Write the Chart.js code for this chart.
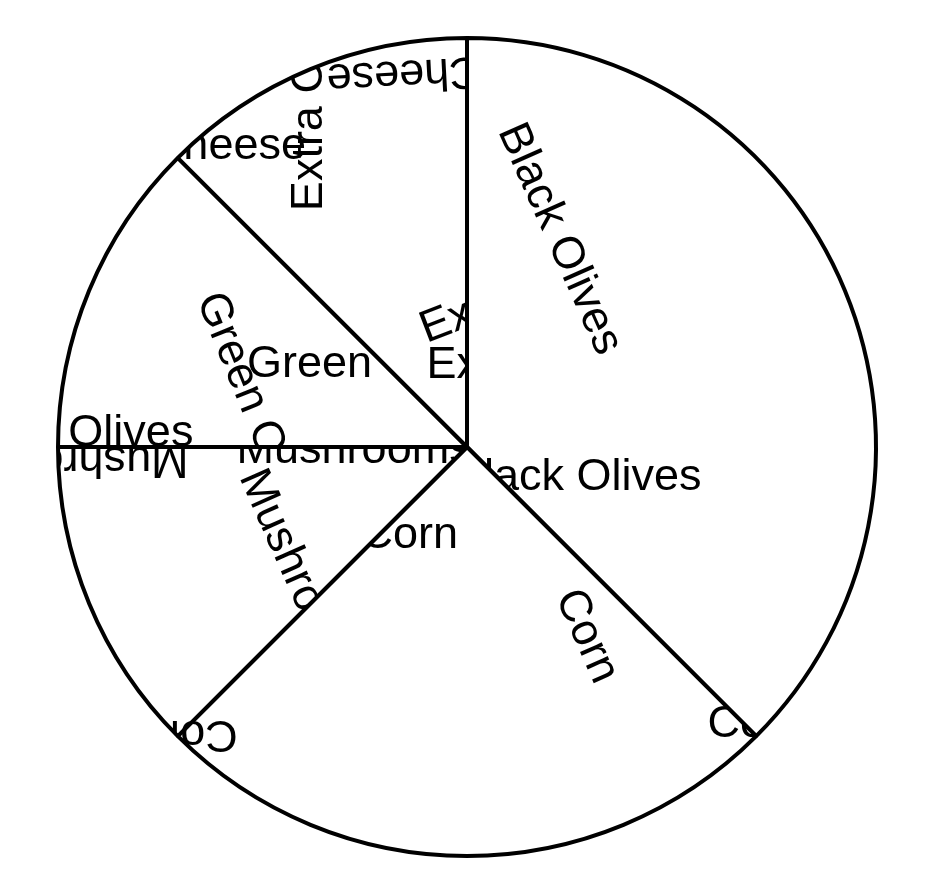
<!DOCTYPE html>
<html>
<head>
<meta charset="utf-8">
<script src="https://cdn.jsdelivr.net/npm/chart.js@4.4.1/dist/chart.umd.min.js"></script>
<style>
  html, body { margin: 0; padding: 0; background: #fff; }
  #wrap { width: 950px; height: 894px; }
</style>
</head>
<body>
<div id="wrap"><canvas id="pizzaChart"></canvas></div>
<script>
const toppings = ['Black Olives', 'Corn', 'Mushrooms', 'Green Olives', 'Extra Cheese'];
const portions = [3, 2, 1, 1, 1];

// where the topping names get painted: offset from the pie centre in
// radius units, rotation in degrees, and what the text is clipped to
const labelSpots = [
    { slice: 0, dx: 0.234, dy: -0.512, rot: 66, clip: 'circle' },
    { slice: 0, dx: 0.271, dy: 0.066, rot: 0, clip: 'slice' },
    { slice: 1, dx: 0.300, dy: 0.459, rot: 66, clip: 'circle' },
    { slice: 1, dx: -0.141, dy: 0.207, rot: 0, clip: 'slice' },
    { slice: 1, dx: 0.707, dy: 0.671, rot: 0, clip: 'slice' },
    { slice: 1, dx: -0.680, dy: 0.710, rot: 180, clip: 'circle' },
    { slice: 2, dx: -0.405, dy: 0.320, rot: 66, clip: 'slice' },
    { slice: 2, dx: -0.276, dy: 0.0, rot: 0, clip: 'slice' },
    { slice: 2, dx: -0.968, dy: 0.039, rot: 180, clip: 'slice' },
    { slice: 3, dx: -0.505, dy: -0.078, rot: 68, clip: 'slice' },
    { slice: 3, dx: -0.217, dy: -0.210, rot: 0, clip: 'slice' },
    { slice: 3, dx: -0.990, dy: -0.041, rot: 0, clip: 'slice' },
    { slice: 4, dx: -0.393, dy: -0.910, rot: -90, clip: 'slice' },
    { slice: 4, dx: -0.727, dy: -0.744, rot: 0, clip: 'slice' },
    { slice: 4, dx: 0.234, dy: -0.207, rot: 0, clip: 'slice' },
    { slice: 4, dx: 0.198, dy: -0.410, rot: -21, clip: 'slice' },
    { slice: 4, dx: -0.010, dy: -0.912, rot: 177, clip: 'slice' }
];

const labelFont = '45px "Liberation Sans", Arial, Helvetica, sans-serif';
const halfCap = 16; // shifts the baseline so text sits centred on its spot

function clipTo(ctx, arc, mode) {
    ctx.beginPath();
    if (mode === 'slice') {
        ctx.moveTo(arc.x, arc.y);
        ctx.arc(arc.x, arc.y, arc.outerRadius, arc.startAngle, arc.endAngle);
        ctx.closePath();
    } else {
        ctx.arc(arc.x, arc.y, arc.outerRadius, 0, Math.PI * 2);
    }
    ctx.clip();
}

const toppingLabels = {
    id: 'toppingLabels',
    afterDatasetsDraw(chart) {
        const ctx = chart.ctx;
        const arcs = chart.getDatasetMeta(0).data;
        ctx.font = labelFont;
        ctx.fillStyle = '#000';
        ctx.textAlign = 'left';
        ctx.textBaseline = 'alphabetic';
        labelSpots.forEach(spot => {
            const arc = arcs[spot.slice];
            const R = arc.outerRadius;
            const text = chart.data.labels[spot.slice];
            const w = ctx.measureText(text).width;
            ctx.save();
            clipTo(ctx, arc, spot.clip);
            ctx.translate(arc.x + spot.dx * R, arc.y + spot.dy * R);
            ctx.rotate(spot.rot * Math.PI / 180);
            ctx.fillText(text, -w / 2, halfCap);
            ctx.restore();
        });
    }
};

const ctx = document.getElementById('pizzaChart').getContext('2d');
new Chart(ctx, {
    type: 'pie',
    data: {
        labels: toppings,
        datasets: [{
            data: portions,
            backgroundColor: '#fff',
            borderColor: '#000',
            borderWidth: 4
        }]
    },
    options: {
        responsive: true,
        maintainAspectRatio: false,
        animation: false,
        layout: { padding: { left: 56, right: 72, top: 36, bottom: 36 } },
        plugins: {
            legend: { display: false },
            tooltip: { enabled: false }
        }
    },
    plugins: [toppingLabels]
});
</script>
</body>
</html>
